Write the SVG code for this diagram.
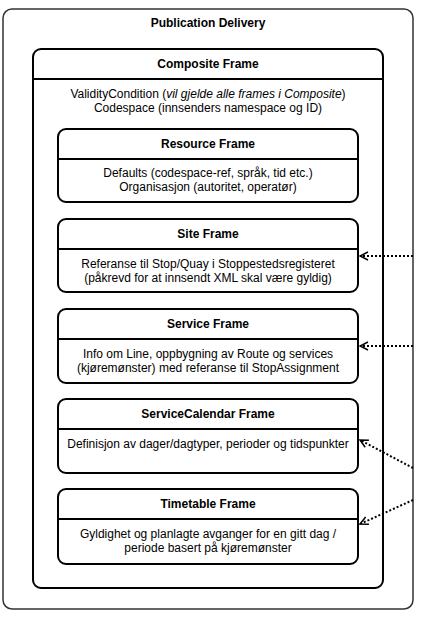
<svg xmlns="http://www.w3.org/2000/svg" width="424" height="620" viewBox="0 0 424 620">
<defs>
<style>
.t{font-family:"Liberation Sans",Arial,sans-serif;font-size:12px;fill:#000;text-anchor:middle}
.b{font-weight:bold}
.box{fill:#fff;stroke:#000;stroke-width:2}
.div{stroke:#000;stroke-width:2}
.con{fill:none;stroke:#000;stroke-width:2;stroke-dasharray:2 2}
</style>
<marker id="ah" viewBox="0 0 10 10" refX="9" refY="5" markerWidth="10" markerHeight="10" markerUnits="userSpaceOnUse" orient="auto">
<path d="M1,1 L9,5 L1,9" fill="none" stroke="#000" stroke-width="1.5"/>
</marker>
</defs>
<g id="publication-delivery">
<rect x="3" y="9" width="410" height="600" rx="9" fill="#fff" stroke="#333" stroke-width="1.5"/>
<text class="t b" x="208" y="27">Publication Delivery</text>
</g>
<g id="composite-frame">
<rect class="box" x="33" y="49" width="350" height="539" rx="8"/>
<line class="div" x1="33" y1="79" x2="383" y2="79"/>
<text class="t b" x="208" y="68">Composite Frame</text>
<text class="t" x="208" y="98">ValidityCondition (<tspan font-style="italic">vil gjelde alle frames i Composite</tspan>)</text>
<text class="t" x="208" y="112">Codespace (innsenders namespace og ID)</text>
</g>
<g id="resource-frame">
<rect class="box" x="58" y="129" width="300" height="73" rx="8"/>
<line class="div" x1="58" y1="159" x2="358" y2="159"/>
<text class="t b" x="208" y="148">Resource Frame</text>
<text class="t" x="208" y="177">Defaults (codespace-ref, språk, tid etc.)</text>
<text class="t" x="208" y="191">Organisasjon (autoritet, operatør)</text>
</g>
<g id="site-frame">
<rect class="box" x="58" y="219" width="300" height="73" rx="8"/>
<line class="div" x1="58" y1="249" x2="358" y2="249"/>
<text class="t b" x="208" y="238">Site Frame</text>
<text class="t" x="208" y="268">Referanse til Stop/Quay i Stoppestedsregisteret</text>
<text class="t" x="208" y="282">(påkrevd for at innsendt XML skal være gyldig)</text>
</g>
<g id="service-frame">
<rect class="box" x="58" y="309" width="300" height="74" rx="8"/>
<line class="div" x1="58" y1="339" x2="358" y2="339"/>
<text class="t b" x="208" y="328">Service Frame</text>
<text class="t" x="208" y="358">Info om Line, oppbygning av Route og services</text>
<text class="t" x="208" y="372">(kjøremønster) med referanse til StopAssignment</text>
</g>
<g id="servicecalendar-frame">
<rect class="box" x="58" y="399" width="300" height="74" rx="8"/>
<line class="div" x1="58" y1="429" x2="358" y2="429"/>
<text class="t b" x="208" y="418">ServiceCalendar Frame</text>
<text class="t" x="208" y="448">Definisjon av dager/dagtyper, perioder og tidspunkter</text>
</g>
<g id="timetable-frame">
<rect class="box" x="58" y="489" width="300" height="75" rx="8"/>
<line class="div" x1="58" y1="519" x2="358" y2="519"/>
<text class="t b" x="208" y="508">Timetable Frame</text>
<text class="t" x="208" y="538">Gyldighet og planlagte avganger for en gitt dag /</text>
<text class="t" x="208" y="552">periode basert på kjøremønster</text>
</g>
<g id="connectors">
<line class="con" x1="413" y1="256" x2="360" y2="256" marker-end="url(#ah)"/>
<line class="con" x1="413" y1="346" x2="360" y2="346" marker-end="url(#ah)"/>
<line class="con" x1="413" y1="468" x2="360" y2="440" marker-end="url(#ah)"/>
<line class="con" x1="413" y1="500" x2="360" y2="524" marker-end="url(#ah)"/>
</g>
</svg>
